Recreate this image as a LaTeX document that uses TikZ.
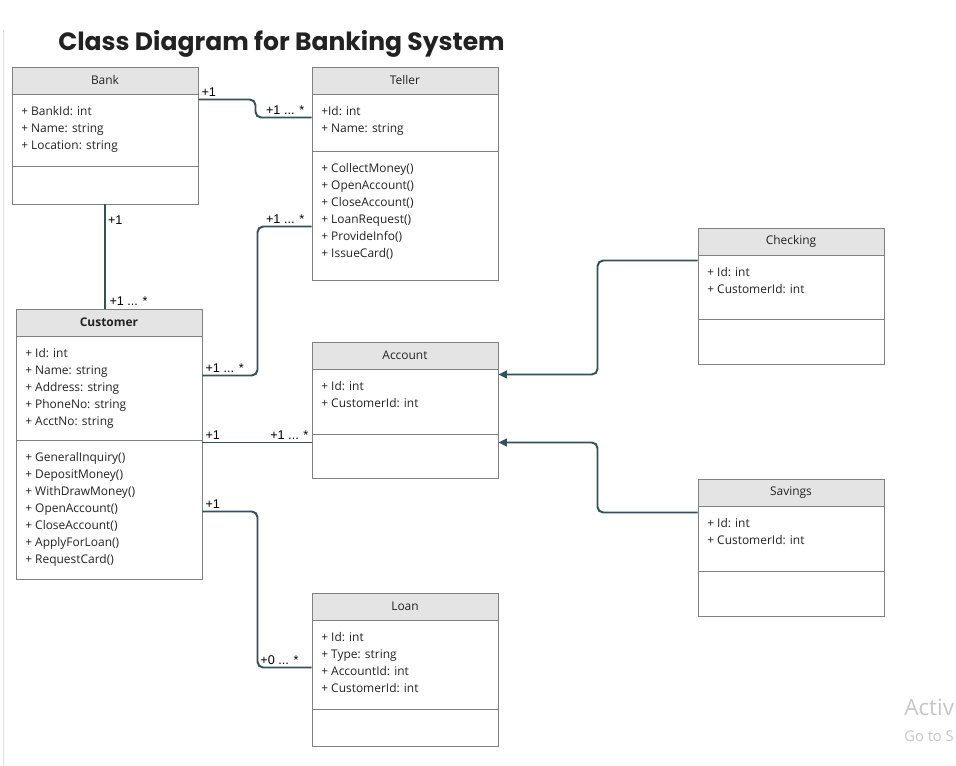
\documentclass[tikz,border=0pt]{standalone}
\usepackage{fontspec}
\setmainfont{Open Sans}
\newfontfamily\titlefont{Poppins}
\newfontfamily\multfont{Liberation Sans}
\usetikzlibrary{arrows.meta,calc,fit,positioning}
\definecolor{linkcol}{RGB}{52,80,92}
\definecolor{headgray}{RGB}{228,228,228}
\definecolor{boxgray}{RGB}{128,128,128}
\definecolor{txtcol}{RGB}{34,34,34}
% class box: name, left x, top y, divider y, bottom y, title, attributes, methods
\newcommand{\umlclass}[8]{%
\fill[headgray](#2,#3)rectangle++(186,27);
\node[classbox,fit={(#2,#3)(#2+186,#5)}](#1){};
\draw[boxline](#2,#3+27)--++(186,0)(#2,#4)--++(186,0);
\node[classname](#1-title)at(#2+93,#3+13.5){#6};
\foreach \t[count=\i]in{#7}
\node[member](#1-a\i)at(#2+9,#3+27+5+17*\i){\t};
\foreach \t[count=\i]in{#8}
\node[member](#1-m\i)at(#2+9,#4+5+17*\i){\t};}

\begin{document}
\begin{tikzpicture}[x=0.025cm,y=-0.025cm,every node/.style={inner sep=0pt},
classbox/.style={draw=boxgray,line width=0.7pt},
boxline/.style={draw=boxgray,line width=0.7pt},
classname/.style={font=\fontsize{8.5}{10}\selectfont,text=txtcol},
member/.style={anchor=base west,font=\fontsize{8.5}{10}\selectfont,text=txtcol},
mult/.style={font=\multfont\fontsize{9}{10}\selectfont,inner sep=1.5pt},
link/.style={draw=linkcol,line width=1.4pt,rounded corners=4pt},
gen/.style={link,-{Triangle[length=6pt,width=5.5pt]}}]
\useasboundingbox(0,0)rectangle(956,766);
\clip(0,0)rectangle(956,766);
\draw[gray!25,line width=0.6pt](3,30)--(3,766);
\node[anchor=west,font=\titlefont\bfseries\fontsize{17.8}{20}\selectfont,text=txtcol](title)at(58,44){Class Diagram for Banking System};
% classes
\umlclass{bank}{12}{67}{166}{204}{Bank}{+ BankId: int,+ Name: string,+ Location: string}{}
\umlclass{teller}{312}{67}{151}{280}{Teller}{+Id: int,+ Name: string}
{+ CollectMoney(),+ OpenAccount(),+ CloseAccount(),+ LoanRequest(),+ ProvideInfo(),+ IssueCard()}
\umlclass{customer}{16}{309}{440}{579}{\bfseries Customer}
{+ Id: int,+ Name: string,+ Address: string,+ PhoneNo: string,+ AcctNo: string}
{+ GeneralInquiry(),+ DepositMoney(),+ WithDrawMoney(),+ OpenAccount(),+ CloseAccount(),+ ApplyForLoan(),+ RequestCard()}
\umlclass{account}{312}{342}{434}{478}{Account}{+ Id: int,+ CustomerId: int}{}
\umlclass{loan}{312}{593}{709}{746}{Loan}{+ Id: int,+ Type: string,+ AccountId: int,+ CustomerId: int}{}
\umlclass{checking}{698}{228}{319}{364}{Checking}{+ Id: int,+ CustomerId: int}{}
\umlclass{savings}{698}{479}{571}{616}{Savings}{+ Id: int,+ CustomerId: int}{}
% associations
\draw[link]($(bank.north east)+(0,33)$)node[mult,above right](bt1){+1}
--++(57,0)|-($(teller.north west)+(0,51)$)node[mult,above left,xshift=-3pt](bt2){+1 ... *};
\draw[link](bank.south)node[mult,below right,yshift=-6pt](bc1){+1}
--(bank.south|-customer.north)node[mult,above right,xshift=1pt](bc2){+1 ... *};
\draw[link]($(customer.north east)+(0,67)$)node[mult,above right](ct1){+1 ... *}
--++(55,0)|-($(teller.north west)+(0,160)$)node[mult,above left,xshift=-3pt](ct2){+1 ... *};
\draw[link]($(customer.north east)+(0,134)$)node[mult,above right](ca1){+1}
--($(account.north west)+(0,101)$)node[mult,above left](ca2){+1 ... *};
\draw[link]($(customer.north east)+(0,203)$)node[mult,above right](cl1){+1}
--++(55,0)|-($(loan.north west)+(0,75)$)node[mult,above left,xshift=-7pt](cl2){+0 ... *};
% generalisation
\draw[gen]($(checking.north west)+(0,33)$)--++(-100,0)|-($(account.north east)+(0,33)$);
\draw[gen]($(savings.north west)+(0,34)$)--++(-100,0)|-($(account.north east)+(0,101)$);
% watermark
\node[anchor=base west,font=\fontsize{16}{18}\selectfont,text=gray!45](wm1)at(904,716){Activ};
\node[anchor=base west,font=\fontsize{10.5}{12}\selectfont,text=gray!45](wm2)at(904,742){Go to S};
\end{tikzpicture}
\end{document}
